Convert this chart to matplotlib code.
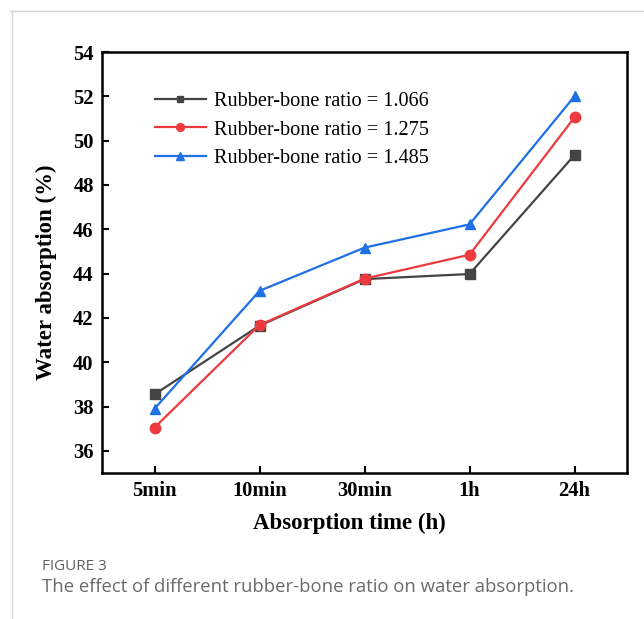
import matplotlib
matplotlib.use('Agg')
import matplotlib.pyplot as plt
from matplotlib.lines import Line2D

# data
times = ['5min', '10min', '30min', '1h', '24h']
ratio_labels = ['Rubber-bone ratio = 1.066',
                'Rubber-bone ratio = 1.275',
                'Rubber-bone ratio = 1.485']
absorb_1066 = [38.55, 41.65, 43.75, 43.98, 49.35]
absorb_1275 = [37.05, 41.68, 43.77, 44.85, 51.05]
absorb_1485 = [37.9, 43.22, 45.17, 46.22, 52.0]
y_ticks = [36, 38, 40, 42, 44, 46, 48, 50, 52, 54]

SERIES = [
    (absorb_1066, '#444444', 's', 6.5),
    (absorb_1275, '#ec3a3f', 'o', 7.5),
    (absorb_1485, '#1f6fe5', '^', 7.5),
]

W, H = 644, 619
fig = plt.figure(figsize=(W / 100, H / 100), dpi=100)
fig.patch.set_facecolor('white')

# page frame lines (thin grey)
fig.add_artist(Line2D([10 / W, 1], [1 - 11 / H, 1 - 11 / H], color='#d4d4d4', lw=1))
fig.add_artist(Line2D([12 / W, 12 / W], [0, 1 - 11 / H], color='#d4d4d4', lw=1))

ax = fig.add_axes([102 / W, 1 - 473 / H, 525 / W, 421 / H])

serif = 'Liberation Serif'
x = list(range(len(times)))
for (vals, col, mk, ms), lab in zip(SERIES, ratio_labels):
    ax.plot(x, vals, color=col, marker=mk, markersize=ms, lw=1.6, label=lab)

ax.set_xlim(-0.5, 4.5)
ax.set_ylim(35, 54)
ax.set_yticks(y_ticks)
ax.set_xticks(x)
ax.set_xticklabels(times)
for sp in ax.spines.values():
    sp.set_linewidth(1.8)
ax.tick_params(direction='in', length=5, width=1.5, labelsize=14.8, pad=6)
for t in ax.get_xticklabels() + ax.get_yticklabels():
    t.set_fontfamily(serif)
    t.set_fontweight('bold')

ax.set_xlabel('Absorption time (h)', fontsize=16.5, fontweight='bold',
              family=serif, labelpad=8)
ax.set_ylabel('Water absorption (%)', fontsize=16.5, fontweight='bold',
              family=serif, labelpad=8)
# labels sit a little off-centre in the reference
ax.xaxis.set_label_coords((349 - 102) / 525, -0.095)
ax.yaxis.set_label_coords(-0.085, 1 - (272 - 52) / 421)

ax.legend(loc='upper left', bbox_to_anchor=((155 - 102) / 525, 1 - (92 - 52) / 421),
          frameon=False, borderpad=0, borderaxespad=0,
          prop={'family': serif, 'size': 14.6}, handlelength=2.5,
          markerscale=0.75, labelspacing=0.45, handletextpad=0.4)

fig.text(42 / W, 1 - 567 / H, 'FIGURE 3', fontsize=11, color='#606060',
         family='Open Sans', va='center')
fig.text(42 / W, 1 - 587 / H,
         'The effect of different rubber-bone ratio on water absorption.',
         fontsize=13.3, color='#6b6b6b', family='Open Sans', va='center')

fig.savefig('out.png', dpi=100, facecolor='white')
